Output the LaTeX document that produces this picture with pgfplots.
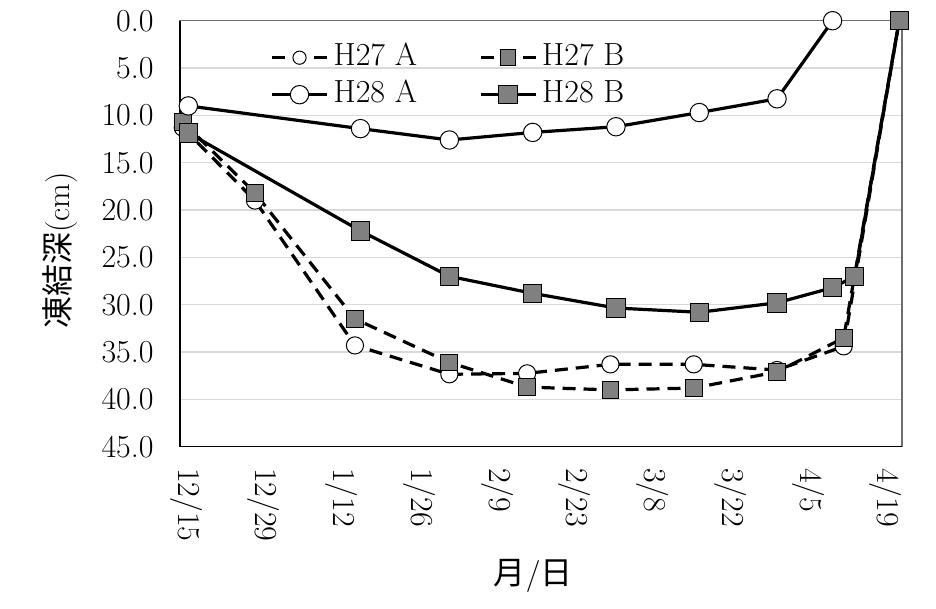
\documentclass[border=0pt]{standalone}
\usepackage{fontspec}
\usepackage{pgfplots}
\pgfplotsset{compat=1.18}
\newfontfamily\cjk{Noto Sans CJK JP}
\newcommand\sz{\fontsize{16bp}{19bp}\selectfont}
\definecolor{markgray}{RGB}{128,128,128}
\definecolor{gridgray}{RGB}{217,217,217}
\definecolor{framegray}{RGB}{110,110,110}

\begin{document}
\begin{tikzpicture}
\begin{axis}[
    at={(0,0)}, anchor=south west,
    scale only axis, width=361bp, height=213bp,
    xmin=-1.5, xmax=128.5,
    ymin=0, ymax=45, y dir=reverse,
    xtick={0,14,...,126},
    xticklabels={12/15,12/29,1/12,1/26,2/9,2/23,3/8,3/22,4/5,4/19},
    ytick={0,5,...,45},
    major tick length=0pt,
    ymajorgrids, grid style={gridgray, line width=0.6bp},
    axis line style={framegray, line width=0.6bp},
    clip=false,
    /pgf/number format/assume math mode=true,
    yticklabel style={/pgf/number format/fixed, /pgf/number format/fixed zerofill,
        /pgf/number format/precision=1, font=\sz, anchor=east, inner sep=0pt,
        text height=10.3bp, text depth=0pt},
    yticklabel shift=13bp,
    xticklabel style={font=\sz, rotate=-90, anchor=west, inner sep=0pt,
        text height=10.3bp, text depth=0pt},
    xticklabel shift=10.5bp,
    xlabel={{\cjk 月}/{\cjk 日}},
    ylabel={{\cjk 凍結深}(cm)},
    every axis x label/.style={at={(axis description cs:0.4893,-0.304)}, anchor=center, font=\sz},
    every axis y label/.style={at={(axis description cs:-0.1662,0.46)}, rotate=90, anchor=center, font=\sz},
    legend columns=2,
    legend cell align=left,
    legend style={draw=none, fill=none, inner sep=0pt, font=\sz,
        at={(axis description cs:0.1247,0.947)}, anchor=north west,
        nodes={inner sep=0pt, text height=11bp, text depth=3bp},
        row sep=4.5bp,
        /tikz/every odd column/.append style={column sep=2.5bp},
        /tikz/every even column/.append style={column sep=31bp}},
    legend image code/.code={
        \draw[mark repeat=2, mark phase=2, #1] plot coordinates {(0bp,0bp) (13.75bp,0bp) (27.5bp,0bp)};
    },
    every axis plot/.append style={black, line width=1.6bp},
]
% left and bottom frame in black, drawn under the series
\draw[black, line width=0.7bp] (axis cs:-1.5,0) -- (axis cs:-1.5,45) -- (axis cs:128.5,45);

% H27 A
\addplot[dash pattern=on 6.5bp off 4bp, mark=*, mark size=4.3bp,
    mark options={solid, fill=white, draw=black, line width=0.5bp},
    legend image post style={mark size=3.3bp}]
coordinates {(-1,11.3) (12,19.0) (30,34.3) (47,37.35) (61,37.25) (76,36.3) (91,36.3) (106,36.9) (118,34.4) (128,0)};
\addlegendentry{H27 A}

% H27 B
\addplot[dash pattern=on 6.5bp off 4bp, mark=square*, mark size=4.2bp,
    mark options={solid, fill=markgray, draw=black, line width=0.5bp},
    legend image post style={mark size=3.9bp}]
coordinates {(-1,10.7) (12,18.2) (30,31.5) (47,36.1) (61,38.7) (76,39.0) (91,38.8) (106,37.1) (118,33.5) (128,0)};
\addlegendentry{H27 B}

% H28 A
\addplot[solid, mark=*, mark size=4.6bp,
    mark options={solid, fill=white, draw=black, line width=0.5bp}]
coordinates {(0,9.0) (31,11.4) (47,12.6) (62,11.8) (77,11.2) (92,9.7) (106,8.25) (116,0)};
\addlegendentry{H28 A}

% H28 B
\addplot[solid, mark=square*, mark size=4.6bp,
    mark options={solid, fill=markgray, draw=black, line width=0.5bp}]
coordinates {(0,11.85) (31,22.2) (47,27.0) (62,28.8) (77,30.35) (92,30.8) (106,29.8) (116,28.2) (120,27.0) (128,0)};
\addlegendentry{H28 B}
\end{axis}
\path (-90bp,-81.15bp) rectangle (378bp,223.35bp);
\end{tikzpicture}
\end{document}
